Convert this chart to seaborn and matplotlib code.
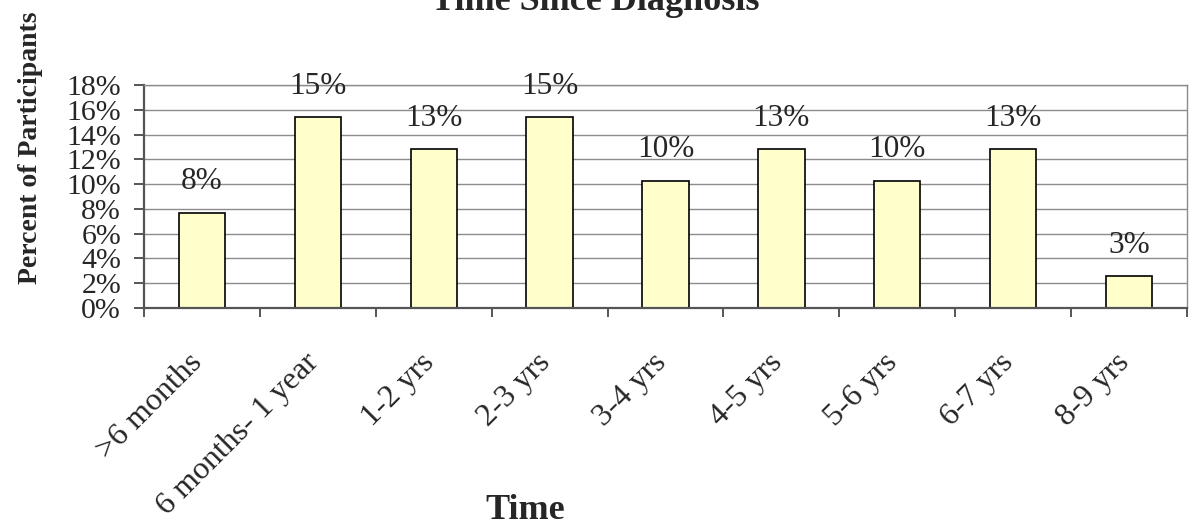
import matplotlib
matplotlib.use("Agg")
import matplotlib.pyplot as plt
import matplotlib.transforms as mtransforms
from matplotlib.ticker import FixedLocator, FuncFormatter
import numpy as np
import pandas as pd
import seaborn as sns

# Share of participants by time since diagnosis (percent)
categories = [">6 months", "6 months- 1 year", "1-2 yrs", "2-3 yrs",
              "3-4 yrs", "4-5 yrs", "5-6 yrs", "6-7 yrs", "8-9 yrs"]
percent = [7.69, 15.38, 12.82, 15.38, 10.26, 12.82, 10.26, 12.82, 2.56]
y_ticks = [0, 2, 4, 6, 8, 10, 12, 14, 16, 18]

title_text = "Time Since Diagnosis"
x_title = "Time"
y_title = "Percent of Participants"

sns.set_theme(style="white")
plt.rcParams["font.family"] = ["Liberation Serif", "DejaVu Serif"]

df = pd.DataFrame({"period": categories, "pct": percent})

fig = plt.figure(figsize=(11.91, 5.25), dpi=100)
W, H = 1191, 525
left, right, top, bottom = 144, 1187, 85, 308
ax = fig.add_axes([left / W, 1 - bottom / H, (right - left) / W, (bottom - top) / H])

sns.barplot(data=df, x="period", y="pct", ax=ax, color="#FFFFCC",
            edgecolor="black", linewidth=1.2, width=0.4, saturation=1)

ax.set_xlim(-0.5, len(categories) - 0.5)
ax.set_ylim(0, 18)

# horizontal gridlines
ax.yaxis.set_major_locator(FixedLocator(y_ticks))
ax.yaxis.set_major_formatter(FuncFormatter(lambda v, p: f"{v:.0f}%"))
ax.grid(axis="y", color="#8c8c8c", linewidth=1.0)
ax.grid(axis="x", visible=False)
ax.set_axisbelow(True)

for side in ("top", "right"):
    ax.spines[side].set_color("#8c8c8c")
    ax.spines[side].set_linewidth(1.0)
for side in ("left", "bottom"):
    ax.spines[side].set_color("#555555")
    ax.spines[side].set_linewidth(1.6)

ax.tick_params(axis="y", which="major", left=True, length=7.5, width=1.4,
               color="#555555", labelsize=21.5, pad=9, direction="out")
# category labels at centres, tick marks at boundaries
ax.set_xticks(np.arange(len(categories) + 1) - 0.5, minor=True)
ax.tick_params(axis="x", which="minor", bottom=True, length=6.5, width=1.4,
               color="#555555", direction="out")
ax.tick_params(axis="x", which="major", bottom=False, length=0, labelsize=23, pad=29)
offset = mtransforms.ScaledTranslation(-14 / 100, 0, fig.dpi_scale_trans)
for lab in ax.get_xticklabels():
    lab.set_rotation(45)
    lab.set_ha("right")
    lab.set_va("top")
    lab.set_rotation_mode("anchor")
    lab.set_transform(lab.get_transform() + offset)

# value labels above bars
labels = [f"{v:.0f}%" for v in percent]
ax.bar_label(ax.containers[0], labels=labels, padding=12, fontsize=22.5)

ax.set_xlabel("")
ax.set_ylabel("")
fig.text(0.5, 1 - 10 / H, title_text, ha="center", va="baseline",
         fontsize=26, fontweight="bold")
fig.text(525 / W, 1 - 519 / H, x_title, ha="center", va="baseline",
         fontsize=26, fontweight="bold")
fig.text(31 / W, 1 - 148 / H, y_title, ha="center", va="center", rotation=90,
         fontsize=20, fontweight="bold")

fig.savefig("out.png", dpi=100, facecolor="white")
